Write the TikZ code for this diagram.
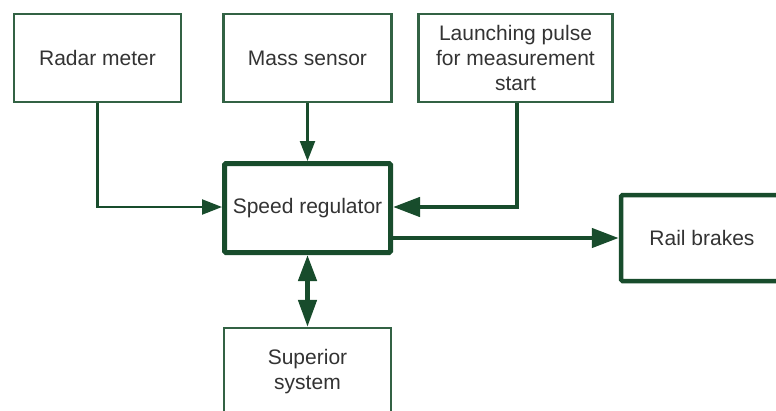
\documentclass[tikz,border=0pt]{standalone}
\usepackage{fontspec}
\setmainfont{Liberation Sans}
\usetikzlibrary{arrows.meta}
\definecolor{dg}{RGB}{24,76,44}
\definecolor{lg}{RGB}{50,98,68}
\definecolor{tx}{RGB}{51,51,51}
\begin{document}
\begin{tikzpicture}[x=1pt,y=-1pt,
  box/.style={draw=lg, line width=2.2pt, fill=white, text=tx, align=center, inner sep=0pt,
    font=\fontsize{21}{25}\selectfont},
  thickbox/.style={box, draw=dg, line width=5pt, rounded corners=1.5pt},
  thinarrow/.style={draw=dg, line width=2.2pt, -{Triangle[length=20pt,width=15pt]}},
  thickarrow/.style={draw=dg, line width=4.5pt, -{Triangle[length=27pt,width=19pt]}},
  botharrow/.style={draw=dg, line width=4.5pt, {Triangle[length=26pt,width=18pt]}-{Triangle[length=27pt,width=18pt]}}]
\clip (0,0) rectangle (776,410);
\fill[white] (0,0) rectangle (776,410);
\node[box, minimum width=167pt, minimum height=88pt] (radar) at (97.5,58) {Radar meter};
\node[box, minimum width=168pt, minimum height=88pt] (mass) at (307.5,58) {Mass sensor};
\node[box, minimum width=194pt, minimum height=88pt] (launch) at (515.5,58) {Launching pulse\\for measurement\\start};
\node[thickbox, minimum width=166pt, minimum height=89pt] (speed) at (307.5,208) {Speed regulator};
\node[thickbox, line width=4.5pt, minimum width=162pt, minimum height=86pt] (rail) at (702,238) {Rail brakes};
\node[box, minimum width=167pt, minimum height=88pt] (sup) at (307.5,372) {Superior\\system};
\draw[thinarrow] (radar.south) |- ([yshift=1pt]speed.west);
\draw[thinarrow] (mass.south) -- (speed.north);
\draw[thickarrow] (517,0 |- launch.south) |- ([yshift=1pt]speed.east);
\draw[thickarrow] (speed.east |- rail.west) -- (rail.west);
\draw[botharrow] (speed.south) -- (sup.north);
\end{tikzpicture}
\end{document}
